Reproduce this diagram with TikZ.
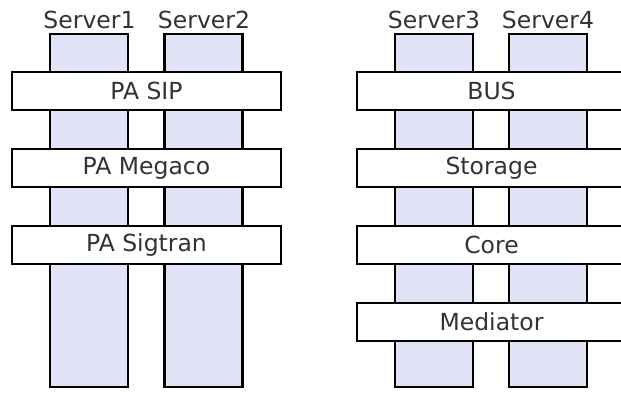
\documentclass[tikz,border=0pt]{standalone}
\usepackage{fontspec}
\setmainfont{DejaVu Sans}
\definecolor{colfill}{RGB}{224,227,246}
\definecolor{txt}{RGB}{51,51,51}
\begin{document}
\begin{tikzpicture}[x=1pt,y=-1pt,
  column/.style={draw=black,fill=colfill,line width=2.7pt,minimum width=78pt,minimum height=353pt,inner sep=0pt,outer sep=0pt},
  layer/.style={draw=black,fill=white,line width=2.7pt,minimum width=269pt,minimum height=38pt,inner sep=0pt,outer sep=0pt,text=txt,font=\fontsize{23.5}{27}\selectfont},
  slabel/.style={anchor=base,text=txt,inner sep=0pt,font=\fontsize{23.5}{27}\selectfont}]
\useasboundingbox (0,0) rectangle (621,392);
\fill[white] (0,0) rectangle (621,392);
% columns
\node[column] (s1) at (89,210.5) {};
\node[column] (s2) at (203.5,210.5) {};
\node[column] (s3) at (434,210.5) {};
\node[column] (s4) at (548,210.5) {};
% labels
\node[slabel] (l1) at (89.5,28) {Server1};
\node[slabel] (l2) at (204,28) {Server2};
\node[slabel] (l3) at (434,28) {Server3};
\node[slabel] (l4) at (548,28) {Server4};
% left layers
\node[layer] (sip) at (146.5,91) {PA SIP};
\node[layer] (megaco) at (146.5,168) {PA Megaco};
\node[layer] (sigtran) at (146.5,245) {PA Sigtran};
% right layers
\node[layer] (bus) at (491.5,91) {BUS};
\node[layer] (storage) at (491.5,168) {Storage};
\node[layer] (core) at (491.5,245) {Core};
\node[layer] (mediator) at (491.5,322) {Mediator};
\end{tikzpicture}
\end{document}
